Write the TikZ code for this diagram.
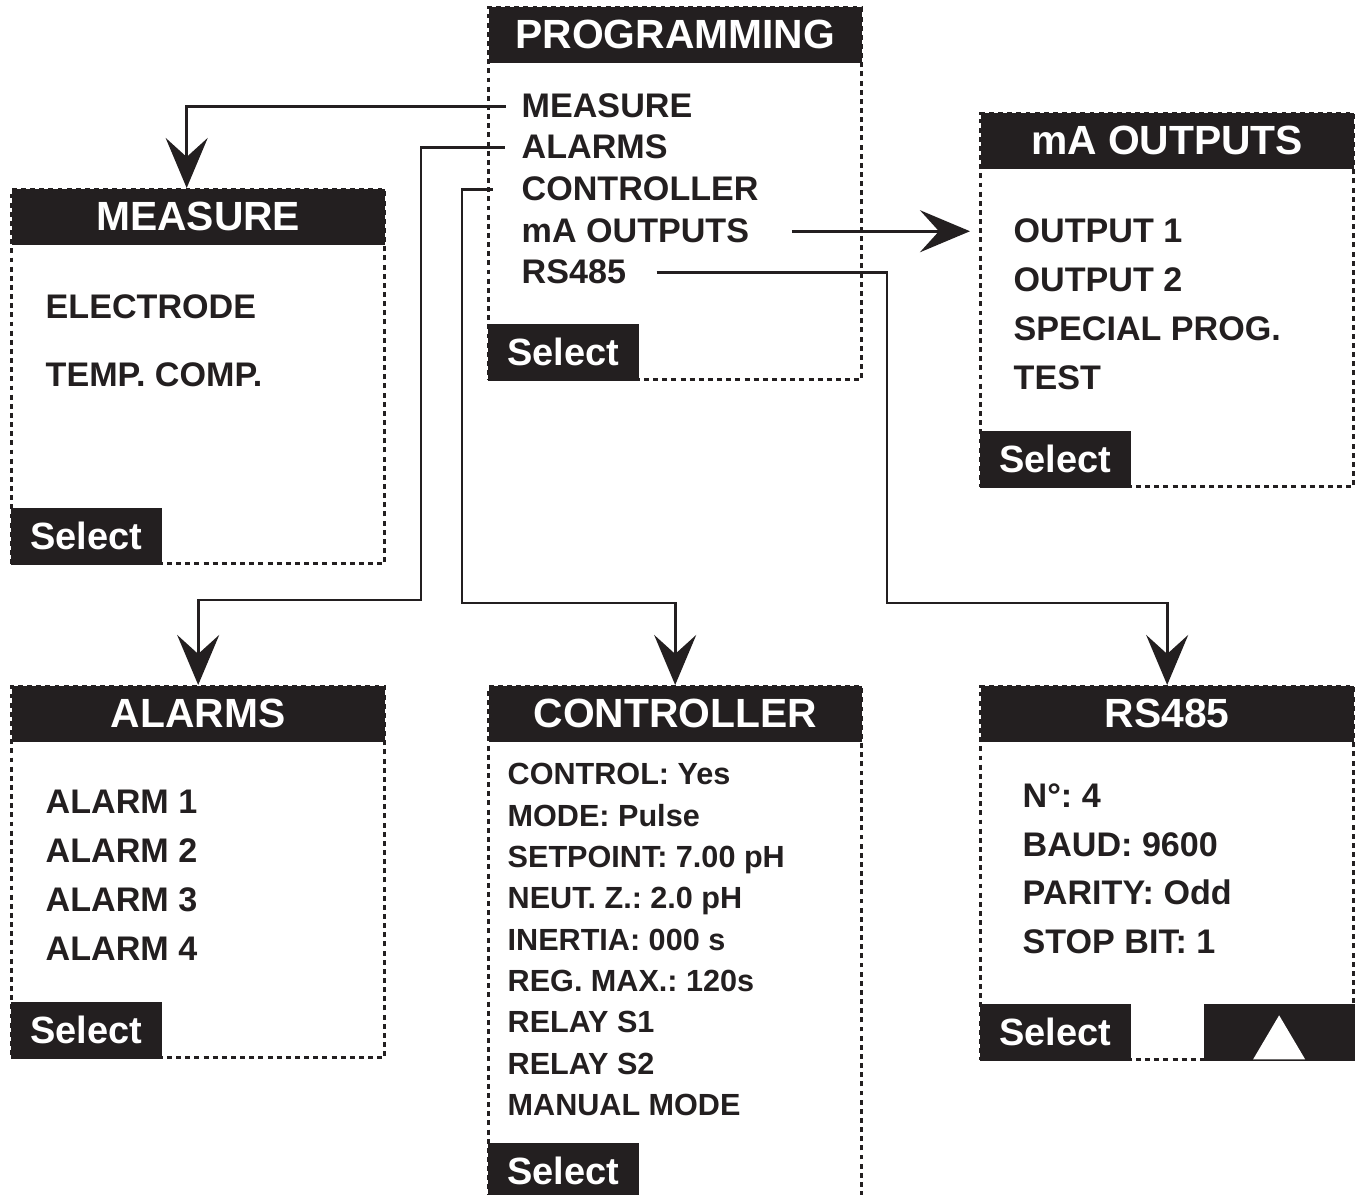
\documentclass[tikz,border=0pt]{standalone}
\usepackage{fontspec}
\setmainfont{Liberation Sans}
\usepackage{tikz}
\usetikzlibrary{arrows.meta,positioning}
\definecolor{ink}{HTML}{231F20}
\frenchspacing
\tikzset{
  panel/.style={draw=ink,line width=0.9pt,dash pattern=on 1.4pt off 1.2pt,minimum width=3.73cm,anchor=north west,inner sep=0},
  menuhead/.style={fill=ink,text=white,minimum width=3.73cm,minimum height=0.56cm,anchor=north,inner sep=0,font=\fontsize{11.6}{13}\selectfont\bfseries},
  selbox/.style={fill=ink,text=white,minimum width=1.51cm,minimum height=0.565cm,inner sep=0,font=\fontsize{10.8}{12}\selectfont\bfseries},
  entry/.style={anchor=base west,inner sep=0,text=ink,font=\fontsize{9.7}{11}\selectfont\bfseries},
  smallentry/.style={anchor=base west,inner sep=0,text=ink,font=\fontsize{8.7}{10}\selectfont\bfseries},
  link/.style={draw=ink,line width=0.75pt,-{Stealth[length=5mm,width=4.2mm,inset=1.9mm]}}
}
\begin{document}
\begin{tikzpicture}[x=0.01cm,y=-0.01cm]
\useasboundingbox (0,0) rectangle (1359,1195);
% programming menu
\node[panel,minimum height=3.72cm] (ppanel) at (487,6) {};
\node[menuhead] (phead) at (ppanel.north) {PROGRAMMING};
\node[selbox,anchor=south west] (psel) at (ppanel.south west) {Select};
\node[entry] (pmeas) at (521,118) {MEASURE};
\node[entry] (palarm) at (521,159) {ALARMS};
\node[entry] (pctrl) at (521,201) {CONTROLLER};
\node[entry] (pma) at (521,243) {mA OUTPUTS};
\node[entry] (prs) at (521,284) {RS485};
% measure menu
\node[panel,minimum height=3.74cm] (mpanel) at (10,188) {};
\node[menuhead] (mhead) at (mpanel.north) {MEASURE};
\node[selbox,anchor=south west] (msel) at (mpanel.south west) {Select};
\node[entry] (melec) at (45,319) {ELECTRODE};
\node[entry] (mtemp) at (45,387) {TEMP. COMP.};
% mA outputs menu
\node[panel,minimum height=3.73cm] (apanel) at (979,112) {};
\node[menuhead] (ahead) at (apanel.north) {mA OUTPUTS};
\node[selbox,anchor=south west] (asel) at (apanel.south west) {Select};
\node[entry] (aout1) at (1013,243) {OUTPUT 1};
\node[entry] (aout2) at (1013,292) {OUTPUT 2};
\node[entry] (aspec) at (1013,341) {SPECIAL PROG.};
\node[entry] (atest) at (1013,390) {TEST};
% alarms menu
\node[panel,minimum height=3.71cm] (lpanel) at (10,685) {};
\node[menuhead] (lhead) at (lpanel.north) {ALARMS};
\node[selbox,anchor=south west] (lsel) at (lpanel.south west) {Select};
\node[entry] (lal1) at (45,814) {ALARM 1};
\node[entry] (lal2) at (45,863) {ALARM 2};
\node[entry] (lal3) at (45,912) {ALARM 3};
\node[entry] (lal4) at (45,961) {ALARM 4};
% controller menu
\node[panel,minimum height=5.2cm] (cpanel) at (487,685) {};
\node[menuhead] (chead) at (cpanel.north) {CONTROLLER};
\node[selbox,anchor=north west] (csel) at (487,1142) {Select};
\node[smallentry] (cc1) at (507,785) {CONTROL: Yes};
\node[smallentry] (cc2) at (507,827) {MODE: Pulse};
\node[smallentry] (cc3) at (507,868) {SETPOINT: 7.00 pH};
\node[smallentry] (cc4) at (507,909) {NEUT. Z.: 2.0 pH};
\node[smallentry] (cc5) at (507,951) {INERTIA: 000 s};
\node[smallentry] (cc6) at (507,992) {REG. MAX.: 120s};
\node[smallentry] (cc7) at (507,1033) {RELAY S1};
\node[smallentry] (cc8) at (507,1075) {RELAY S2};
\node[smallentry] (cc9) at (507,1116) {MANUAL MODE};
% rs485 menu
\node[panel,minimum height=3.73cm] (rpanel) at (979,685) {};
\node[menuhead] (rhead) at (rpanel.north) {RS485};
\node[selbox,anchor=south west] (rsel) at (rpanel.south west) {Select};
\node[selbox,anchor=south east] (rup) at (rpanel.south east) {};
\fill[white] ([xshift=-0.26cm,yshift=0.02cm]rup.south) -- ([yshift=0.46cm]rup.south) -- ([xshift=0.26cm,yshift=0.02cm]rup.south) -- cycle;
\node[entry] (rnum) at (1022,808) {N°: 4};
\node[entry] (rbaud) at (1022,857) {BAUD: 9600};
\node[entry] (rpar) at (1022,905) {PARITY: Odd};
\node[entry] (rstop) at (1022,954) {STOP BIT: 1};
% links
\coordinate (abend) at (421,600);
\coordinate (cbend) at (462,603);
\coordinate (rbend) at (887,603);
\draw[link] ([xshift=-0.15cm]pmeas.west) -| ([xshift=-0.115cm]mhead.north);
\draw[link] ([xshift=-0.16cm]palarm.west) -| (abend) -| (lhead.north);
\draw[link] ([xshift=-0.28cm]pctrl.west) -| (cbend) -| (chead.north);
\draw[link,shorten >=0.09cm] ([xshift=0.42cm]pma.east) -- (pma.east -| apanel.west);
\draw[link] ([xshift=0.3cm]prs.east) -| (rbend) -| (rhead.north);
\end{tikzpicture}
\end{document}
